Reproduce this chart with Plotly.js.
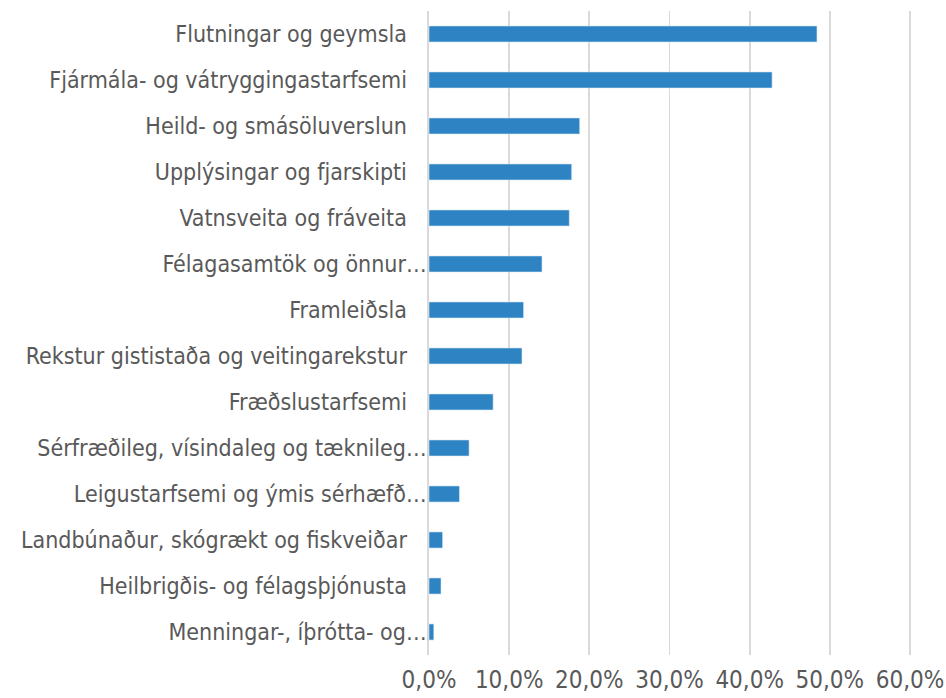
<!DOCTYPE html>
<html>
<head>
<meta charset="utf-8">
<script src="https://cdn.plot.ly/plotly-3.0.1.min.js"></script>
<style>html,body{margin:0;padding:0;background:#fff;}#chart{width:946px;height:698px;}</style>
</head>
<body>
<div id="chart"></div>
<script>
const categories = [
  "Flutningar og geymsla",
  "Fjármála- og vátryggingastarfsemi",
  "Heild- og smásöluverslun",
  "Upplýsingar og fjarskipti",
  "Vatnsveita og fráveita",
  "Félagasamtök og önnur…",
  "Framleiðsla",
  "Rekstur gististaða og veitingarekstur",
  "Fræðslustarfsemi",
  "Sérfræðileg, vísindaleg og tæknileg…",
  "Leigustarfsemi og ýmis sérhæfð…",
  "Landbúnaður, skógrækt og fiskveiðar",
  "Heilbrigðis- og félagsþjónusta",
  "Menningar-, íþrótta- og…"
];
const values = [0.484, 0.428, 0.188, 0.178, 0.175, 0.141, 0.118, 0.116, 0.080, 0.050, 0.038, 0.017, 0.015, 0.006];
const xTickVals = [0, 0.1, 0.2, 0.3, 0.4, 0.5, 0.6];
const xTickText = ["0,0%", "10,0%", "20,0%", "30,0%", "40,0%", "50,0%", "60,0%"];

const pad = '\u00A0\u00A0\u00A0';
const yTickText = categories.map(c => c.endsWith('…') ? c : c + pad);

const trace = {
  type: 'bar',
  orientation: 'h',
  y: categories,
  x: values,
  marker: {color: '#2E83C3', line: {color: '#DDEBF7', width: 0.6}},
  width: 0.35,
  hoverinfo: 'x+y'
};

const layout = {
  width: 946,
  height: 698,
  margin: {l: 429, r: 28, t: 11, b: 43, pad: 0},
  paper_bgcolor: '#ffffff',
  plot_bgcolor: '#ffffff',
  showlegend: false,
  font: {family: '"DejaVu Sans Condensed", "DejaVu Sans", sans-serif', color: '#595959'},
  xaxis: {
    range: [0, 0.61],
    tickvals: xTickVals,
    ticktext: xTickText,
    showgrid: true,
    gridcolor: '#D9D9D9',
    gridwidth: 1.8,
    zeroline: false,
    showline: false,
    ticks: '',
    tickfont: {family: '"Liberation Sans Narrow", "DejaVu Sans Condensed", sans-serif', size: 24, color: '#595959'},
    ticklabelstandoff: 8,
    ticklabeloverflow: 'allow',
    fixedrange: true
  },
  yaxis: {
    type: 'category',
    autorange: 'reversed',
    tickvals: categories,
    ticktext: yTickText,
    showgrid: false,
    zeroline: false,
    showline: true,
    linecolor: '#D9D9D9',
    linewidth: 1.8,
    ticks: '',
    tickfont: {family: '"DejaVu Sans Condensed", "DejaVu Sans", sans-serif', size: 23, color: '#595959'},
    ticklabelstandoff: -4,
    fixedrange: true
  }
};

Plotly.newPlot('chart', [trace], layout, {displayModeBar: false, staticPlot: true});
</script>
</body>
</html>
